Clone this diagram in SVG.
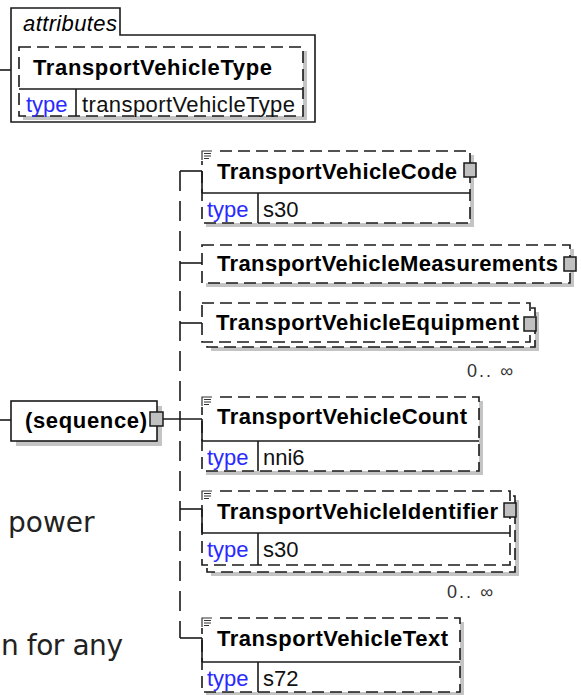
<svg xmlns="http://www.w3.org/2000/svg" xmlns:xlink="http://www.w3.org/1999/xlink" width="581" height="695" viewBox="0 0 581 695">
<style>
.ln{stroke:#1a1a1a;stroke-width:1.6;fill:none}
.sl{stroke:#1a1a1a;stroke-width:1.6;fill:#fff}
.dash{stroke:#1a1a1a;stroke-width:1.6;fill:#fff;stroke-dasharray:12 6}
.spine{stroke:#1a1a1a;stroke-width:1.6;fill:none;stroke-dasharray:20 10}
.sh{fill:#c4c4c4}
.pl{fill:#c0c0c0;stroke:#1a1a1a;stroke-width:1.5}
.nm{font-family:"Liberation Sans",Arial,sans-serif;font-weight:bold;font-size:22px;fill:#000}
.ty{font-family:"Liberation Sans",Arial,sans-serif;font-size:22px;fill:#2a2aff}
.tv{font-family:"Liberation Sans",Arial,sans-serif;font-size:22px;fill:#111}
.oc{font-family:"Liberation Sans",Arial,sans-serif;font-size:18px;fill:#333}
.at{font-family:"Liberation Sans",Arial,sans-serif;font-style:italic;font-size:22px;fill:#000}
.bg{font-family:"DejaVu Sans",Verdana,sans-serif;font-size:28px;fill:#222}
</style>
<defs>
<g id="doc">
<rect x="-1" y="-2" width="14" height="12" fill="#fff"/>
<path d="M0,9V0H10M2,2.5H9M2,5H9M2,7.5H7" stroke="#333" stroke-width="1.2" fill="none"/>
</g>
</defs>

<g id="connectors">
<line class="ln" x1="0" y1="70" x2="11" y2="70"/>
<line class="ln" x1="0" y1="420" x2="11" y2="420"/>
<line class="ln" x1="163" y1="419" x2="202" y2="419"/>
<line class="spine" x1="180" y1="171" x2="180" y2="638"/>
<line class="ln" x1="180" y1="171" x2="202" y2="171"/>
<line class="ln" x1="180" y1="263" x2="202" y2="263"/>
<line class="ln" x1="180" y1="323" x2="202" y2="323"/>
<line class="ln" x1="180" y1="509" x2="202" y2="509"/>
<line class="ln" x1="180" y1="638" x2="202" y2="638"/>
</g>

<g id="attributes">
<path class="ln" d="M11,122V8H120V35H315V122Z"/>
<text class="at" x="23" y="31" textLength="94">attributes</text>
<g id="TransportVehicleType">
<rect class="sh" x="23" y="51" width="284" height="69"/>
<rect class="dash" x="19" y="47" width="284" height="69"/>
<line class="ln" x1="19" y1="89" x2="303" y2="89"/>
<line class="ln" x1="76" y1="89" x2="76" y2="116"/>
<text class="nm" x="33" y="75" textLength="239">TransportVehicleType</text>
<text class="ty" x="26" y="112">type</text>
<text class="tv" x="82" y="112" textLength="213">transportVehicleType</text>
</g>
</g>

<g id="sequence">
<rect class="sh" x="16" y="406" width="146" height="40"/>
<rect class="sl" x="11" y="401" width="146" height="40"/>
<text class="nm" x="25" y="428" textLength="122">(sequence)</text>
<rect class="pl" x="150" y="412" width="13" height="14"/>
</g>

<g id="TransportVehicleCode">
<rect class="sh" x="206" y="155" width="268" height="72"/>
<rect class="dash" x="202" y="151" width="268" height="72"/>
<line class="ln" x1="202" y1="193" x2="470" y2="193"/>
<line class="ln" x1="258" y1="193" x2="258" y2="223"/>
<line class="ln" x1="202" y1="171" x2="202" y2="193"/>
<use xlink:href="#doc" x="202" y="151"/>
<rect class="pl" x="464" y="163" width="12" height="14"/>
<text class="nm" x="217" y="179" textLength="240">TransportVehicleCode</text>
<text class="ty" x="207" y="217">type</text>
<text class="tv" x="263" y="217">s30</text>
</g>

<g id="TransportVehicleMeasurements">
<rect class="sh" x="206" y="249" width="368" height="38"/>
<rect class="dash" x="202" y="245" width="368" height="38"/>
<rect class="pl" x="564" y="257" width="12" height="14"/>
<text class="nm" x="217" y="271" textLength="341">TransportVehicleMeasurements</text>
</g>

<g id="TransportVehicleEquipment">
<rect class="sh" x="211" y="312" width="328" height="39"/>
<rect class="dash" x="207" y="308" width="328" height="39"/>
<rect class="dash" x="202" y="303" width="328" height="39"/>
<rect class="pl" x="524" y="317" width="12" height="14"/>
<text class="nm" x="216" y="330" textLength="303">TransportVehicleEquipment</text>
<text class="oc" x="467" y="377" textLength="46">0.. ∞</text>
</g>

<g id="TransportVehicleCount">
<rect class="sh" x="206" y="401" width="277" height="74"/>
<rect class="dash" x="202" y="397" width="277" height="74"/>
<line class="ln" x1="202" y1="441" x2="479" y2="441"/>
<line class="ln" x1="258" y1="441" x2="258" y2="471"/>
<line class="ln" x1="202" y1="419" x2="202" y2="441"/>
<use xlink:href="#doc" x="202" y="397"/>
<text class="nm" x="217" y="424" textLength="250">TransportVehicleCount</text>
<text class="ty" x="207" y="465">type</text>
<text class="tv" x="263" y="465">nni6</text>
</g>

<g id="TransportVehicleIdentifier">
<rect class="sh" x="211" y="500" width="308" height="76"/>
<rect class="dash" x="207" y="496" width="308" height="76"/>
<rect class="dash" x="202" y="491" width="308" height="74"/>
<line class="ln" x1="202" y1="533" x2="510" y2="533"/>
<line class="ln" x1="258" y1="533" x2="258" y2="565"/>
<line class="ln" x1="202" y1="509" x2="202" y2="533"/>
<use xlink:href="#doc" x="202" y="491"/>
<rect class="pl" x="504" y="503" width="12" height="14"/>
<text class="nm" x="217" y="519" textLength="281">TransportVehicleIdentifier</text>
<text class="ty" x="207" y="557">type</text>
<text class="tv" x="263" y="557">s30</text>
<text class="oc" x="447" y="598" textLength="46">0.. ∞</text>
</g>

<g id="TransportVehicleText">
<rect class="sh" x="206" y="622" width="258" height="73"/>
<rect class="dash" x="202" y="618" width="258" height="74"/>
<line class="ln" x1="202" y1="662" x2="460" y2="662"/>
<line class="ln" x1="258" y1="662" x2="258" y2="692"/>
<line class="ln" x1="202" y1="638" x2="202" y2="662"/>
<use xlink:href="#doc" x="202" y="618"/>
<text class="nm" x="217" y="646" textLength="231">TransportVehicleText</text>
<text class="ty" x="207" y="686">type</text>
<text class="tv" x="263" y="686">s72</text>
</g>

<g id="page-text">
<text class="bg" x="8" y="532">power</text>
<text class="bg" x="1" y="655" textLength="122">n for any</text>
</g>
</svg>
